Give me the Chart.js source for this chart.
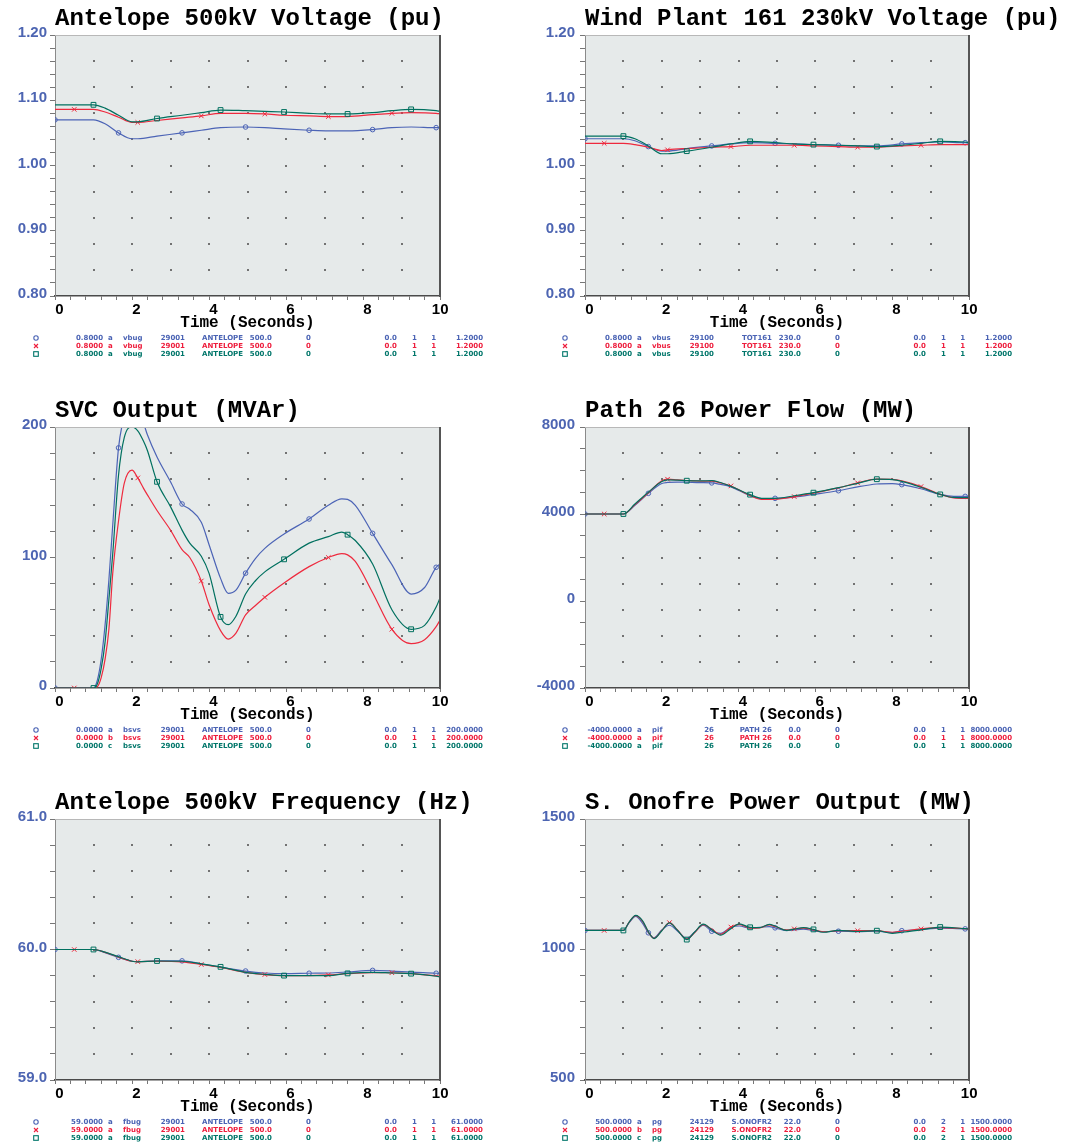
<!DOCTYPE html>
<html><head><meta charset="utf-8">
<script src="https://cdn.jsdelivr.net/npm/chart.js@4.4.1/dist/chart.umd.min.js"></script>
<style>
html,body{margin:0;padding:0;background:#fff;}
body{width:1081px;height:1144px;position:relative;overflow:hidden;}
.box{position:absolute;}
.title{position:absolute;font-family:'Liberation Mono','Courier New',monospace;font-weight:bold;font-size:24px;line-height:24px;white-space:pre;color:#000;}
.leg{position:absolute;font-family:'DejaVu Sans',sans-serif;font-weight:bold;font-size:7px;line-height:8px;white-space:pre;}
.sym{position:absolute;}
</style></head><body>
<script>
// ---------- marker times (s) ----------
const MARK_BLUE = [0, 1.65, 3.3, 4.95, 6.6, 8.25, 9.9];
const MARK_RED  = [0.5, 2.15, 3.8, 5.45, 7.1, 8.75];
const MARK_TEAL = [1.0, 2.65, 4.3, 5.95, 7.6, 9.25];
const X_LABELS = ['0', '2', '4', '6', '8', '10'];

// ---------- Antelope 500kV voltage / Wind plant voltage / Frequency (time base) ----------
const T_A = [0, 0.5, 1.0, 1.3, 1.65, 2.0, 2.15, 2.65, 3.3, 3.8, 4.3, 4.95, 5.45, 5.95, 6.6, 7.1, 7.6, 8.25, 8.75, 9.25, 9.9, 10];
const ANTV_BLUE = [1.070,1.070,1.070,1.064,1.050,1.041,1.041,1.045,1.050,1.054,1.058,1.059,1.058,1.056,1.054,1.053,1.053,1.055,1.058,1.059,1.058,1.058];
const ANTV_RED  = [1.086,1.086,1.086,1.082,1.074,1.066,1.066,1.069,1.073,1.076,1.080,1.080,1.079,1.077,1.076,1.075,1.075,1.078,1.080,1.081,1.080,1.079];
const ANTV_TEAL = [1.093,1.093,1.093,1.088,1.077,1.067,1.067,1.072,1.077,1.081,1.085,1.084,1.083,1.082,1.080,1.079,1.079,1.081,1.084,1.086,1.084,1.083];

const WIND_BLUE = [1.041,1.041,1.041,1.038,1.029,1.022,1.022,1.026,1.030,1.033,1.035,1.034,1.033,1.032,1.031,1.030,1.030,1.033,1.035,1.036,1.035,1.035];
const WIND_RED  = [1.034,1.034,1.034,1.032,1.028,1.023,1.024,1.026,1.028,1.029,1.031,1.031,1.031,1.030,1.029,1.028,1.028,1.030,1.031,1.032,1.032,1.032];
const WIND_TEAL = [1.045,1.045,1.045,1.041,1.030,1.018,1.018,1.022,1.028,1.033,1.037,1.035,1.033,1.032,1.031,1.030,1.029,1.031,1.034,1.037,1.036,1.035];

const FREQ_BLUE = [60,60,60,59.975,59.94,59.91,59.907,59.913,59.913,59.89,59.865,59.835,59.82,59.815,59.818,59.82,59.828,59.84,59.835,59.826,59.818,59.816];
const FREQ_RED  = [60,60,60,59.978,59.942,59.91,59.907,59.91,59.905,59.885,59.862,59.825,59.808,59.80,59.80,59.805,59.815,59.822,59.822,59.815,59.798,59.795];
const FREQ_TEAL = [60,60,60,59.98,59.945,59.91,59.905,59.912,59.91,59.89,59.867,59.825,59.81,59.80,59.80,59.80,59.817,59.825,59.82,59.815,59.795,59.79];

// ---------- SVC output ----------
const T_SVC = [0, 0.5, 1.0, 1.1, 1.2, 1.3, 1.4, 1.5, 1.65, 1.8, 2.0, 2.15, 2.3, 2.4, 2.65, 3.0, 3.3, 3.5, 3.8, 4.0, 4.3, 4.5, 4.7, 4.95, 5.2, 5.45, 5.95, 6.6, 7.1, 7.45, 7.6, 7.8, 8.25, 8.75, 9.25, 9.6, 9.9, 10];
const SVC_BLUE = [0,0,0, 6,22,48,83,125, 184,208,220,214,203,194, 177,158,141,137,127,110, 84,72.5,75,88,99,107, 118,129.5,140,145,144.5,140, 118.5,94.5,72,77,92.5,95];
const SVC_RED  = [0,0,0, 1,8,22,45,88, 128,157,167,161,153,148, 136,121,106,100,82,64, 44,37.5,42,56,63,69.5, 80.5,93,100,103,102,97, 73,45,34,37,47,52];
const SVC_TEAL = [0,0,0, 3,15,35,68,103, 163,192,200,197,189,182, 158,139,121,111,101,88, 54.5,48.5,55,72,82,89, 98.6,111,116,119.5,117.5,113, 95,60,45,48,62,69];

// ---------- Path 26 flow ----------
const T_P26 = [0, 0.5, 1.0, 1.3, 1.65, 2.0, 2.15, 2.4, 2.65, 3.0, 3.3, 3.5, 3.8, 4.3, 4.6, 4.95, 5.45, 5.95, 6.6, 7.1, 7.6, 8.0, 8.25, 8.75, 9.25, 9.6, 9.9, 10];
const P26_BLUE = [4000,4000,4000,4400,4950,5400,5450,5470,5460,5440,5430,5370,5250,4840,4710,4720,4780,4900,5070,5250,5380,5400,5350,5160,4900,4810,4810,4810];
const P26_RED  = [4000,4000,4000,4430,4980,5530,5600,5570,5540,5510,5510,5440,5290,4850,4670,4680,4800,4960,5200,5430,5600,5590,5520,5260,4900,4740,4720,4720];
const P26_TEAL = [4000,4000,4000,4460,5000,5490,5570,5560,5530,5520,5530,5460,5270,4890,4720,4720,4840,4980,5210,5410,5600,5580,5500,5230,4900,4760,4750,4750];

// ---------- S. Onofre output ----------
const T_SO = [0, 0.5, 1.0, 1.15, 1.32, 1.5, 1.65, 1.8, 2.0, 2.2, 2.4, 2.65, 2.85, 3.08, 3.3, 3.53, 3.8, 4.02, 4.3, 4.55, 4.8, 4.95, 5.25, 5.45, 5.69, 5.95, 6.2, 6.6, 7.1, 7.6, 8.0, 8.25, 8.75, 9.25, 9.9, 10];
const SO_BLUE = [1073,1073,1073, 1103,1127,1100,1064,1045, 1075,1093,1072,1043,1066, 1093,1070,1062,1085,1090, 1082,1085,1088,1083,1072, 1075,1078,1072,1068,1070, 1068,1070,1065,1072,1076, 1082,1079,1079];
const SO_RED  = [1073,1073,1073, 1105,1130,1108,1067,1043, 1073,1103,1076,1040,1064, 1095,1078,1058,1086,1096, 1082,1083,1094,1088,1075, 1079,1082,1075,1068,1072, 1072,1072,1066,1070,1079, 1084,1080,1079];
const SO_TEAL = [1073,1073,1073, 1105,1131,1110,1068,1042, 1072,1102,1075,1038,1066, 1097,1076,1055,1080,1098, 1085,1084,1096,1090,1073, 1078,1084,1077,1066,1073, 1069,1072,1062,1066,1075, 1086,1080,1079];

// ---------- y tick labels ----------
const Y_VOLT_LABELS = ['0.80', '0.90', '1.00', '1.10', '1.20'];
const Y_SVC_LABELS = ['0', '100', '200'];
const Y_P26_LABELS = ['-4000', '0', '4000', '8000'];
const Y_FREQ_LABELS = ['59.0', '60.0', '61.0'];
const Y_SO_LABELS = ['500', '1000', '1500'];

// ---------- legend rows ----------
const LEG_ANTV = ['0.8000', ['a','a','a'], 'vbug', '29001', 'ANTELOPE', '500.0', '0', '0.0', '1', '1', '1.2000'];
const LEG_WIND = ['0.8000', ['a','a','a'], 'vbus', '29100', 'TOT161', '230.0', '0', '0.0', '1', '1', '1.2000'];
const LEG_SVC  = ['0.0000', ['a','b','c'], 'bsvs', '29001', 'ANTELOPE', '500.0', '0', '0.0', '1', '1', '200.0000'];
const LEG_P26  = ['-4000.0000', ['a','a','a'], 'pif', '26', 'PATH 26', '0.0', '0', '0.0', '1', '1', '8000.0000'];
const LEG_FREQ = ['59.0000', ['a','a','a'], 'fbug', '29001', 'ANTELOPE', '500.0', '0', '0.0', '1', '1', '61.0000'];
const LEG_SO   = ['500.0000', ['a','b','c'], 'pg', '24129', 'S.ONOFR2', '22.0', '0', '0.0', '2', '1', '1500.0000'];

const TITLES = ['Antelope 500kV Voltage (pu)', 'Wind Plant 161 230kV Voltage (pu)', 'SVC Output (MVAr)', 'Path 26 Power Flow (MW)', 'Antelope 500kV Frequency (Hz)', 'S. Onofre Power Output (MW)'];

// ---------- styling ----------
const C_BLUE = '#4c64b6', C_RED = '#ee2a3e', C_TEAL = '#00705f';
const L_BLUE = '#4a63b4', L_RED = '#ee1d3c', L_TEAL = '#00766a';
const ROW_TOP = [35, 427, 819];
const PLOT_H = 261;

const PANELS = [
  {title: TITLES[0], col: 0, row: 0, t: T_A, b: ANTV_BLUE, r: ANTV_RED, g: ANTV_TEAL, min: 0.8, max: 1.2, step: 0.02, labels: Y_VOLT_LABELS, leg: LEG_ANTV},
  {title: TITLES[1], col: 1, row: 0, t: T_A, b: WIND_BLUE, r: WIND_RED, g: WIND_TEAL, min: 0.8, max: 1.2, step: 0.02, labels: Y_VOLT_LABELS, leg: LEG_WIND},
  {title: TITLES[2], col: 0, row: 1, t: T_SVC, b: SVC_BLUE, r: SVC_RED, g: SVC_TEAL, min: 0, max: 200, step: 20, labels: Y_SVC_LABELS, leg: LEG_SVC},
  {title: TITLES[3], col: 1, row: 1, t: T_P26, b: P26_BLUE, r: P26_RED, g: P26_TEAL, min: -4000, max: 8000, step: 1000, labels: Y_P26_LABELS, leg: LEG_P26},
  {title: TITLES[4], col: 0, row: 2, t: T_A, b: FREQ_BLUE, r: FREQ_RED, g: FREQ_TEAL, min: 59, max: 61, step: 0.2, labels: Y_FREQ_LABELS, leg: LEG_FREQ},
  {title: TITLES[5], col: 1, row: 2, t: T_SO, b: SO_BLUE, r: SO_RED, g: SO_TEAL, min: 500, max: 1500, step: 100, labels: Y_SO_LABELS, leg: LEG_SO}
];

const deco = {
  id: 'deco',
  beforeDraw(chart) {
    const {ctx, chartArea: a} = chart;
    const w = a.right - a.left, h = a.bottom - a.top;
    ctx.save();
    ctx.fillStyle = '#e6eaea';
    ctx.fillRect(a.left, a.top, w, h);
    ctx.fillStyle = '#727272';
    for (let i = 1; i < 10; i++) {
      for (let j = 1; j < 10; j++) {
        const x = Math.round(a.left + w * i / 10), y = Math.round(a.top + h * j / 10);
        ctx.fillRect(x - 1, y - 1, 2, 2);
      }
    }
    ctx.restore();
  },
  afterDraw(chart) {
    const {ctx, chartArea: a} = chart;
    ctx.save();
    ctx.strokeStyle = '#b8b8b8'; ctx.lineWidth = 1;
    ctx.beginPath(); ctx.moveTo(a.left, a.top + 0.5); ctx.lineTo(a.right, a.top + 0.5); ctx.stroke();
    ctx.strokeStyle = '#555'; ctx.lineWidth = 2;
    ctx.beginPath(); ctx.moveTo(a.right, a.top); ctx.lineTo(a.right, a.bottom + 1); ctx.stroke();
    ctx.restore();
  }
};

function markerRadius(times, marks, rad) {
  return ctx => {
    const t = times[ctx.dataIndex];
    if (t === undefined) return 0;
    return marks.some(m => Math.abs(m - t) < 0.06) ? rad : 0;
  };
}

function mkDs(label, times, vals, color, style, marks, rad, order) {
  return {
    label, data: times.map((x, i) => ({x, y: vals[i]})),
    borderColor: color, borderWidth: 1.2, fill: false,
    cubicInterpolationMode: 'monotone',
    pointStyle: style, pointRadius: markerRadius(times, marks, rad), pointHoverRadius: 0,
    pointBorderColor: color, pointBackgroundColor: 'rgba(0,0,0,0)', pointBorderWidth: 1, order
  };
}

function yCallback(labels, step) {
  return v => {
    const s = labels.find(l => Math.abs(parseFloat(l) - v) < step * 0.01);
    return s !== undefined ? [s, ''] : '';
  };
}

function addText(cls, text, x, y, color, align) {
  const d = document.createElement('div');
  d.className = cls;
  d.textContent = text;
  d.style.color = color;
  d.style.top = y + 'px';
  if (align === 'r') { d.style.left = (x - 200) + 'px'; d.style.width = '200px'; d.style.textAlign = 'right'; }
  else d.style.left = x + 'px';
  document.body.appendChild(d);
}

function addSymbol(kind, cx, cy, color) {
  const ns = 'http://www.w3.org/2000/svg';
  const s = document.createElementNS(ns, 'svg');
  s.setAttribute('width', 8); s.setAttribute('height', 8);
  s.setAttribute('class', 'sym');
  s.style.left = (cx - 4) + 'px'; s.style.top = (cy - 4) + 'px';
  let el;
  if (kind === 'circle') {
    el = document.createElementNS(ns, 'circle');
    el.setAttribute('cx', 4); el.setAttribute('cy', 4); el.setAttribute('r', 2.2);
  } else if (kind === 'rect') {
    el = document.createElementNS(ns, 'rect');
    el.setAttribute('x', 1.7); el.setAttribute('y', 1.7); el.setAttribute('width', 4.6); el.setAttribute('height', 4.6);
  } else {
    el = document.createElementNS(ns, 'path');
    el.setAttribute('d', 'M2 2 L6 6 M6 2 L2 6');
  }
  el.setAttribute('fill', 'none'); el.setAttribute('stroke', color); el.setAttribute('stroke-width', 1.1);
  s.appendChild(el);
  document.body.appendChild(s);
}

const COLS = [[103,'r'],[108,'l'],[123,'l'],[185,'r'],[243,'r'],[272,'r'],[306,'l'],[397,'r'],[412,'l'],[436,'r'],[483,'r']];
const LCOLORS = [L_BLUE, L_RED, L_TEAL];
const SYMS = ['circle', 'cross', 'rect'];

PANELS.forEach(p => {
  const top = ROW_TOP[p.row];
  const left = p.col === 0 ? 0 : 520;
  const yw = p.col === 0 ? 55 : 65;
  const width = p.col === 0 ? 450 : 459;
  const ypad = p.col === 0 ? 3 : 5;
  const box = document.createElement('div');
  box.className = 'box';
  box.style.left = left + 'px';
  box.style.top = (top - 15) + 'px';
  box.style.width = width + 'px';
  box.style.height = (15 + PLOT_H + 40) + 'px';
  const cv = document.createElement('canvas');
  box.appendChild(cv);
  document.body.appendChild(box);

  // title
  addText('title', p.title, p.col === 0 ? 55 : 585, top - 28.4, '#000', 'l');

  // legend rows
  const off = p.col === 0 ? 0 : 529;
  const baseY = top + 302.7;
  for (let k = 0; k < 3; k++) {
    const cy = baseY + 8 * k;
    addSymbol(SYMS[k], 36 + off, cy, LCOLORS[k]);
    const L = p.leg;
    const vals = [L[0], L[1][k], L[2], L[3], L[4], L[5], L[6], L[7], L[8], L[9], L[10]];
    vals.forEach((v, ci) => addText('leg', v, COLS[ci][0] + off, cy - 4, LCOLORS[k], COLS[ci][1]));
  }

  new Chart(cv, {
    type: 'line',
    data: {
      datasets: [
        mkDs('a', p.t, p.b, C_BLUE, 'circle', MARK_BLUE, 2.3, 2),
        mkDs('b', p.t, p.r, C_RED, 'crossRot', MARK_RED, 3.2, 1),
        mkDs('c', p.t, p.g, C_TEAL, 'rect', MARK_TEAL, 3.4, 0)
      ]
    },
    options: {
      responsive: true, maintainAspectRatio: false, animation: false,
      layout: {padding: {top: 15, right: 10, bottom: 0, left: 0}},
      plugins: {legend: {display: false}, tooltip: {enabled: false}},
      events: [],
      scales: {
        x: {
          type: 'linear', min: 0, max: 10,
          ticks: {
            stepSize: 0.4, autoSkip: false, maxRotation: 0, minRotation: 0, align: 'end', labelOffset: 8.5, padding: 1,
            color: '#000', font: {family: "'Liberation Sans', Arial, sans-serif", weight: 'bold', size: 15},
            callback: v => { const k = Math.round(v); return (Math.abs(v - k) < 1e-6 && k % 2 === 0) ? X_LABELS[k / 2] : ''; }
          },
          grid: {drawOnChartArea: false, drawTicks: true, tickLength: 4, tickColor: '#777'},
          border: {display: true, color: '#4a4a4a', width: 1.5},
          title: {display: true, text: 'Time (Seconds)', color: '#000',
            font: {family: "'Liberation Mono', 'Courier New', monospace", weight: 'bold', size: 16},
            padding: {top: 0, bottom: 3}},
          afterFit: s => { s.height = 40; }
        },
        y: {
          type: 'linear', min: p.min, max: p.max,
          ticks: {
            stepSize: p.step, autoSkip: false, padding: ypad, color: '#4d65b2',
            font: {family: "'Liberation Sans', Arial, sans-serif", weight: 'bold', size: 15, lineHeight: '4px'},
            callback: yCallback(p.labels, p.step)
          },
          grid: {drawOnChartArea: false, drawTicks: true, tickLength: 5, tickColor: '#777'},
          border: {display: true, color: '#8a8a8a', width: 1},
          afterFit: s => { s.width = yw; }
        }
      }
    },
    plugins: [deco]
  });
});
</script>
</body></html>
